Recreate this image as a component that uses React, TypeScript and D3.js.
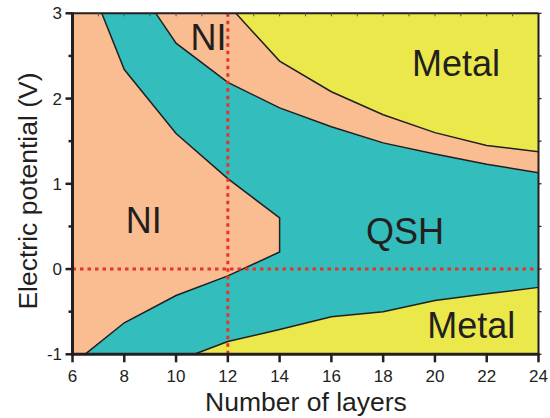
import React from "react";
import * as d3 from "d3";

// Phase boundaries (x = number of layers, y = electric potential in V)
const niLeftUpperX = [7.13, 8, 10, 12, 14];
const niLeftUpperY = [3, 2.34, 1.59, 1.06, 0.6];
const niLeftLowerX = [14, 12, 10, 8, 6.48];
const niLeftLowerY = [0.2, -0.08, -0.31, -0.63, -1];
const qshUpperX = [9.22, 10, 12, 14, 16, 18, 20, 22, 24];
const qshUpperY = [3, 2.65, 2.19, 1.89, 1.67, 1.48, 1.35, 1.23, 1.13];
const metalUpperX = [12.31, 14, 16, 18, 20, 22, 24];
const metalUpperY = [3, 2.44, 2.08, 1.81, 1.6, 1.45, 1.375];
const metalLowerX = [10.7, 12, 14, 16, 18, 20, 22, 24];
const metalLowerY = [-1, -0.85, -0.71, -0.56, -0.5, -0.37, -0.29, -0.215];

const xTicks = [6, 8, 10, 12, 14, 16, 18, 20, 22, 24];
const yTicks = [-1, 0, 1, 2, 3];
const regionLabels = ["NI", "NI", "QSH", "Metal", "Metal"];
const regionLabelX = [11.25, 8.75, 18.84, 20.81, 21.4];
const regionLabelY = [2.57, 0.42, 0.29, 2.26, -0.81];

const W = 550;
const H = 418;
const INK = "#231F20";
const SALMON = "#F9BD91";
const TEAL = "#33BDBC";
const YELLOW = "#EBE84B";
const RED = "#E8332A";
const FONT = "'Liberation Sans', Arial, Helvetica, sans-serif";

const zip = (xs: number[], ys: number[]) => xs.map((x, i) => [x, ys[i]] as [number, number]);

export default function App() {
  const x = d3.scaleLinear().domain([6, 24]).range([72.5, 538.5]);
  const y = d3.scaleLinear().domain([-1, 3]).range([354.3, 13.3]);
  const line = d3
    .line<[number, number]>()
    .x((d) => x(d[0]))
    .y((d) => y(d[1]));

  const niLeft = [...zip(niLeftUpperX, niLeftUpperY), ...zip(niLeftLowerX, niLeftLowerY)];
  const qshUpper = zip(qshUpperX, qshUpperY);
  const metalUpper = zip(metalUpperX, metalUpperY);
  const metalLower = zip(metalLowerX, metalLowerY);

  const tealPoly: [number, number][] = [
    ...qshUpper,
    [24, -1],
    ...[...niLeft].reverse(),
  ];
  const upperMetalPoly: [number, number][] = [...metalUpper, [24, 3]];
  const lowerMetalPoly: [number, number][] = [...metalLower, [24, -1]];

  const minorY = d3.range(-1, 3.01, 0.5);
  const topTicks = d3.range(7, 24, 1);

  return (
    <svg
      width={W}
      height={H}
      style={{ position: "absolute", left: 0, top: 0, background: "#fff" }}
      fontFamily={FONT}
    >
      <rect x={x(6)} y={y(3)} width={x(24) - x(6)} height={y(-1) - y(3)} fill={SALMON} />
      <path d={line(tealPoly) + "Z"} fill={TEAL} />
      <path d={line(upperMetalPoly) + "Z"} fill={YELLOW} />
      <path d={line(lowerMetalPoly) + "Z"} fill={YELLOW} />

      {[niLeft, qshUpper, metalUpper, metalLower].map((pts, i) => (
        <path key={i} d={line(pts) || ""} fill="none" stroke={INK} strokeWidth={1.5} strokeLinejoin="miter" />
      ))}

      {/* red guide lines */}
      <line x1={x(12)} x2={x(12)} y1={y(3)} y2={y(-1)} stroke={RED} strokeWidth={3} strokeDasharray="3.5 4" />
      <line x1={x(6)} x2={x(24)} y1={y(0)} y2={y(0)} stroke={RED} strokeWidth={3} strokeDasharray="3.5 4" />

      {/* region labels */}
      {regionLabels.map((t, i) => (
        <text
          key={i}
          x={x(regionLabelX[i])}
          y={y(regionLabelY[i])}
          textAnchor="middle"
          fontSize={36}
          fill={INK}
        >
          {t}
        </text>
      ))}

      {/* frame */}
      <line x1={x(6)} x2={x(24)} y1={y(3)} y2={y(3)} stroke={INK} strokeWidth={2} />
      <line x1={x(24)} x2={x(24)} y1={y(3)} y2={y(-1)} stroke={INK} strokeWidth={2} />
      <line x1={x(6)} x2={x(6)} y1={y(3) - 1} y2={y(-1) + 1.5} stroke={INK} strokeWidth={3} />
      <line x1={x(6) - 1.5} x2={x(24) + 1} y1={y(-1)} y2={y(-1)} stroke={INK} strokeWidth={3} />

      {/* top minor ticks */}
      {topTicks.map((t) => (
        <line key={t} x1={x(t)} x2={x(t)} y1={y(3)} y2={y(3) + 3} stroke="#555" strokeWidth={1} />
      ))}
      {/* right ticks */}
      {minorY.map((t) => (
        <line key={t} x1={x(24)} x2={x(24) + 3} y1={y(t)} y2={y(t)} stroke={INK} strokeWidth={1.2} />
      ))}
      {/* left ticks */}
      {minorY.map((t) => {
        const major = Math.abs(t - Math.round(t)) < 1e-6;
        return (
          <line
            key={t}
            x1={x(6) - (major ? 7 : 4)}
            x2={x(6)}
            y1={y(t)}
            y2={y(t)}
            stroke={INK}
            strokeWidth={2.5}
          />
        );
      })}
      {/* bottom ticks */}
      {xTicks.map((t) => (
        <line key={t} x1={x(t)} x2={x(t)} y1={y(-1)} y2={y(-1) + 8} stroke={INK} strokeWidth={2.5} />
      ))}

      {/* tick labels */}
      {xTicks.map((t) => (
        <text key={t} x={x(t)} y={382} textAnchor="middle" fontSize={17} fill={INK}>
          {t}
        </text>
      ))}
      {yTicks.map((t) => (
        <text key={t} x={62} y={y(t)} dy="0.35em" textAnchor="end" fontSize={17} fill={INK}>
          {t}
        </text>
      ))}

      {/* axis titles */}
      <text x={306} y={411} textAnchor="middle" fontSize={26.5} fill={INK}>
        Number of layers
      </text>
      <text
        transform={`translate(37,191) rotate(-90)`}
        textAnchor="middle"
        fontSize={26.5}
        fill={INK}
      >
        Electric potential (V)
      </text>
    </svg>
  );
}
